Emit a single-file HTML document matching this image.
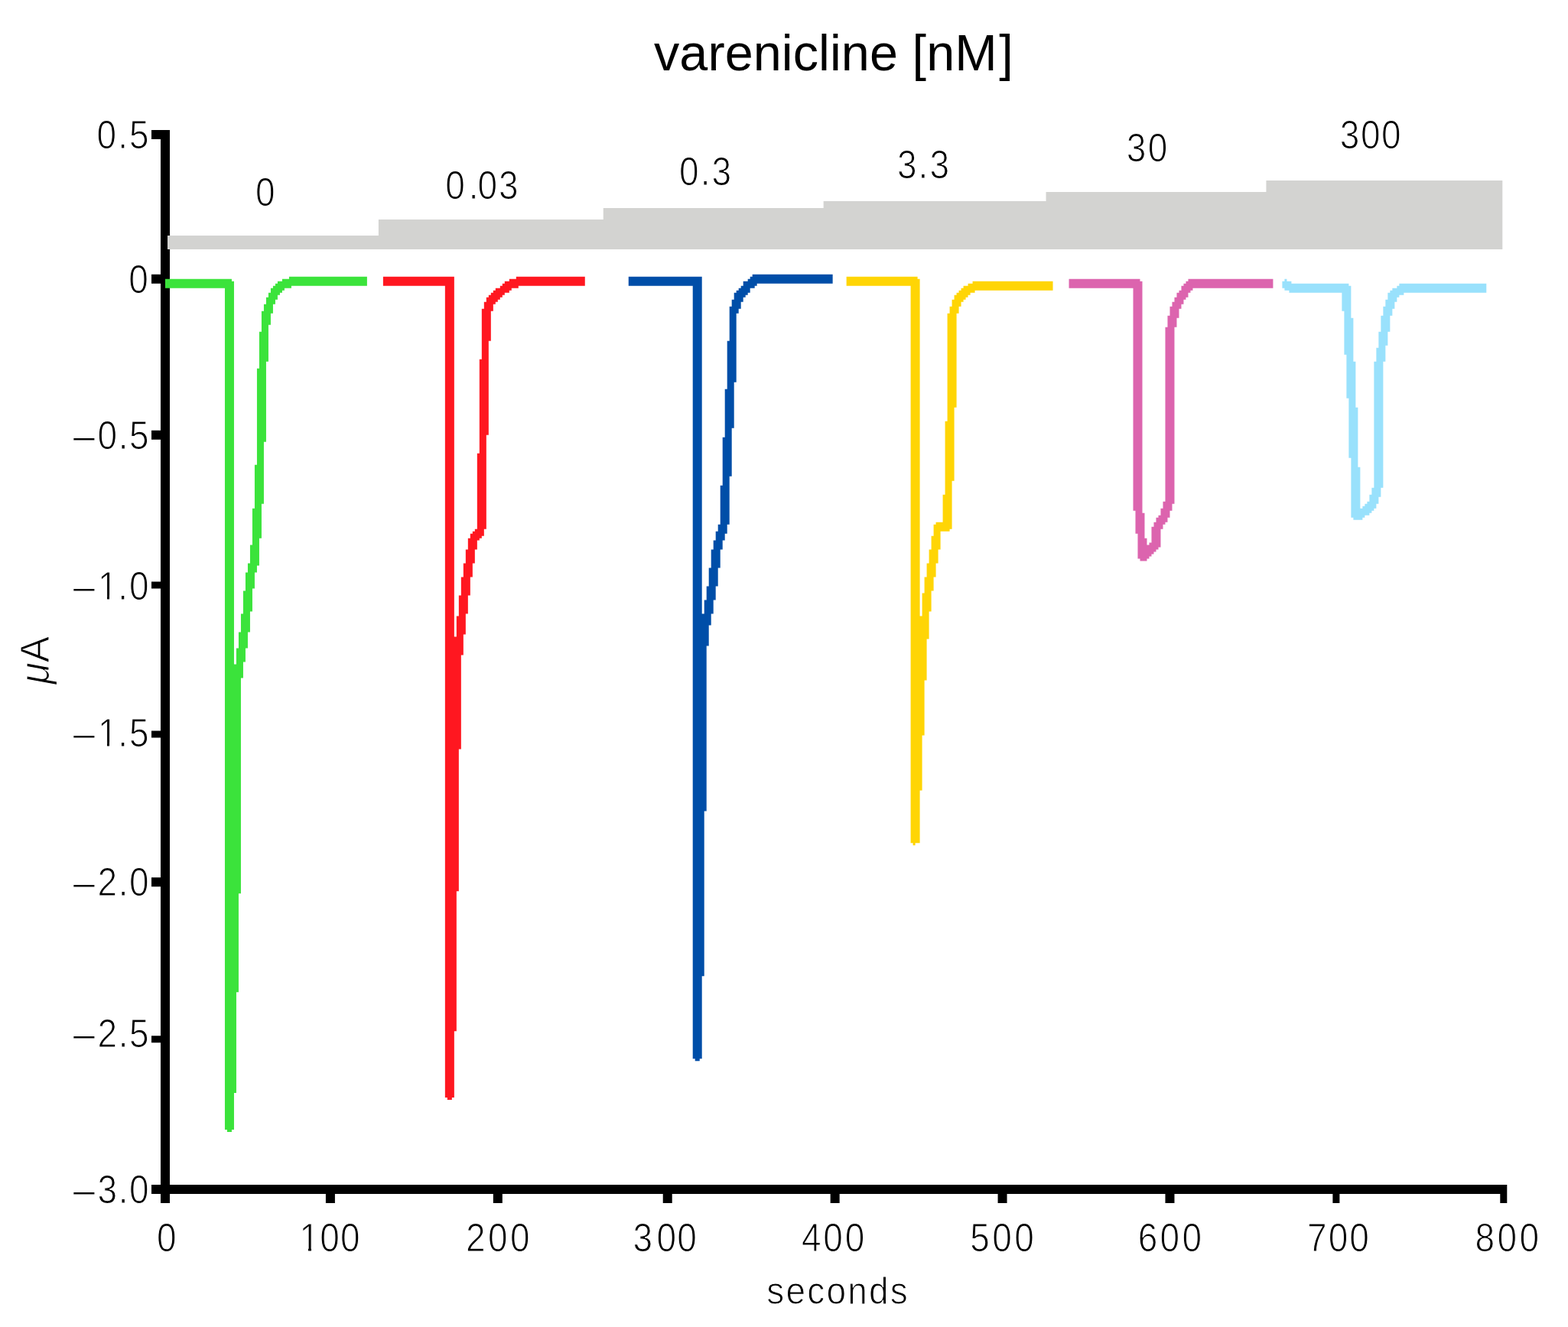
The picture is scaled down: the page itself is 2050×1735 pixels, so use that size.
<!DOCTYPE html>
<html lang="en">
<head>
<meta charset="utf-8">
<title>varenicline [nM]</title>
<style>
html,body{margin:0;padding:0;background:#fff;}
body{width:2050px;height:1735px;font-family:"Liberation Sans",sans-serif;}
svg{display:block;}
</style>
</head>
<body>
<svg width="2050" height="1735" viewBox="0 0 2050 1735">
<rect width="2050" height="1735" fill="#fff"/>
<g transform="matrix(0.9996 0 0 0.9993 0.0800 0.1190)">
<path fill="#000" d="M1098 1562v12h-12v-12h-207v12h-12v-12h-210v12h-12v-12h-207v12h-12v-12h-204v12h-12v-12h-12v-12h12v-186h-12v-9h12v-195h-12v-12h12v-183h-12v-9h12v-186h-12v-9h12v-186h-12v-12h12v-192h-12v-12h12v-177h-12v-12h24v1380h1749v24h-9v-12h-210v12h-9v-12h-207v12h-12v-12h-207v12h-12v-12z"/>
<path fill="#d3d3d1" d="M219 326v-18h276v-21h294v-15h288v-9h291v-12h288v-15h309v90z"/>
<path fill="#3be33b" d="M294 377h-78v-12h87v3h3v501h3v-21h3v-21h3v-24h3v-30h3v-24h3v-12h3v-24h3v-48h3v-57h3v-126h3v-48h3v-27h3v-9h3v-9h3v-6h3v-6h3v-3h3v-3h3v-3h6v-3h9v-3h102v12h-99v3h-9v3h-3v3h-3v3h-3v6h-3v6h-3v12h-3v15h-3v48h-3v105h-3v81h-3v45h-3v36h-3v9h-3v21h-3v30h-3v27h-3v21h-3v18h-3v21h-3v282h-3v129h-3v132h-3v48h-3v3h-6v-3h-3z"/>
<path fill="#ff1720" d="M594 833h3v-27h3v-27h3v-24h3v-18h3v-18h3v-15h3v-6h3v-3h3v-3h3v-99h3v-123h3v-66h3v-9h3v-6h3v-3h3v-3h3v-3h3v-3h6v-3h3v-3h3v-3h6v-3h9v-3h90v12h-87v3h-9v3h-3v3h-6v3h-3v3h-3v3h-3v3h-3v3h-3v9h-3v39h-3v123h-3v123h-3v9h-3v3h-3v3h-3v12h-3v18h-3v18h-3v24h-3v24h-3v27h-3v27h-3v123h-3v186h-3v183h-3v87h-3v3h-6v-3h-3v-1062h-81v-12h93z"/>
<path fill="#004ea8" d="M990 371v3h-3v3h-6v6h-3v3h-3v3h-3v6h-3v9h-3v6h-3v90h-3v60h-3v63h-3v63h-3v12h-3v9h-3v12h-3v24h-3v24h-3v18h-3v18h-3v15h-3v27h-3v216h-3v216h-3v108h-3v3h-6v-3h-3v-1011h-84v-12h96v441h3v-18h3v-18h3v-24h3v-24h3v-12h3v-12h3v-9h3v-51h3v-63h3v-63h3v-63h3v-45h3v-9h3v-9h3v-3h3v-3h3v-3h3v-6h6v-3h3v-3h3v-3h105v12z"/>
<path fill="#ffd505" d="M1203 1103h-6v3h-3v-3h-3v-729h-84v-12h93v3h3v441h3v-30h3v-21h3v-18h3v-18h3v-18h3v-15h3v-3h9v-36h3v-96h3v-141h3v-9h3v-9h3v-6h3v-3h3v-3h3v-3h3v-3h6v-3h6v-3h105v12h-102v3h-6v3h-3v3h-3v3h-3v3h-3v6h-3v9h-3v123h-3v96h-3v63h-3v3h-12v24h-3v18h-3v18h-3v18h-3v27h-3v36h-3v54h-3v72h-3v72h-3z"/>
<path fill="#dc64ae" d="M1482 377h-84v-12h93v3h3v303h3v33h3v9h3v-3h3v-21h3v-6h3v-6h3v-3h3v-9h3v-9h3v-228h3v-15h3v-12h3v-6h3v-6h3v-6h3v-3h3v-6h3v-3h3v-3h3v-3h111v12h-105v3h-3v3h-3v6h-3v3h-3v6h-3v6h-3v12h-3v12h-3v231h-3v9h-3v9h-3v6h-3v3h-3v6h-3v24h-3v3h-3v3h-3v3h-3v3h-3v3h-3v3h-9v-3h-3v-33h-3v-30h-3z"/>
<path fill="#99e1fc" d="M1770 473h3v60h3v78h3v54h3v-3h3v-3h3v-3h3v-9h3v-9h3v-165h3v-18h3v-21h3v-21h3v-12h3v-9h3v-9h3v-3h3v-3h6v-3h3v-3h114v12h-108v3h-6v3h-3v6h-3v9h-3v9h-3v21h-3v18h-3v21h-3v165h-3v12h-3v9h-3v6h-3v3h-3v3h-3v3h-6v3h-3v3h-12v-3h-3v-78h-3v-78h-3v-57h-3v-57h-3v-24h-69v-3h-6v-3h-3v-9h3v-3h3v3h6v3h75v3h3v42h3z"/>
</g>
<g font-family="'Liberation Sans', sans-serif" fill="#000">
<text transform="translate(855.00 92.00) scale(1 1.0000)" font-size="66.5" letter-spacing="0.10">varenicline [nM<tspan dx="2.4">]</tspan></text>
<text transform="translate(126.51 193.70) scale(1 1.1132)" font-size="46" letter-spacing="2.05" stroke="#fff" stroke-width="1.0">0.5</text>
<text transform="translate(168.21 383.32) scale(1 1.1132)" font-size="46" letter-spacing="0.00" stroke="#fff" stroke-width="1.0">0</text>
<text transform="translate(95.75 586.75) scale(1 1.1132)" font-size="46" letter-spacing="3.09" stroke="#fff" stroke-width="1.0"><tspan textLength="31.7" lengthAdjust="spacingAndGlyphs">–</tspan><tspan dx="0.1">0</tspan><tspan dx="-1.5">.</tspan><tspan dx="-1.5">5</tspan></text>
<text transform="translate(95.75 784.25) scale(1 1.1132)" font-size="46" letter-spacing="3.09" stroke="#fff" stroke-width="1.0"><tspan textLength="31.7" lengthAdjust="spacingAndGlyphs">–</tspan><tspan dx="0.6">1</tspan><tspan dx="-2.5">.</tspan><tspan dx="-1">0</tspan></text>
<text transform="translate(95.75 976.13) scale(1 1.1132)" font-size="46" letter-spacing="3.09" stroke="#fff" stroke-width="1.0"><tspan textLength="31.7" lengthAdjust="spacingAndGlyphs">–</tspan><tspan dx="0.6">1</tspan><tspan dx="-2.5">.</tspan><tspan dx="-1">5</tspan></text>
<text transform="translate(95.75 1171.37) scale(1 1.1132)" font-size="46" letter-spacing="3.09" stroke="#fff" stroke-width="1.0"><tspan textLength="31.7" lengthAdjust="spacingAndGlyphs">–</tspan><tspan dx="0.1">2</tspan><tspan dx="-1.5">.</tspan><tspan dx="-1.5">0</tspan></text>
<text transform="translate(95.75 1368.88) scale(1 1.1132)" font-size="46" letter-spacing="3.09" stroke="#fff" stroke-width="1.0"><tspan textLength="31.7" lengthAdjust="spacingAndGlyphs">–</tspan><tspan dx="0.1">2</tspan><tspan dx="-1.5">.</tspan><tspan dx="-1.5">5</tspan></text>
<text transform="translate(95.75 1573.31) scale(1 1.1132)" font-size="46" letter-spacing="3.09" stroke="#fff" stroke-width="1.0"><tspan textLength="31.7" lengthAdjust="spacingAndGlyphs">–</tspan><tspan dx="0.1">3</tspan><tspan dx="-1.5">.</tspan><tspan dx="-1.5">0</tspan></text>
<text transform="translate(204.95 1635.52) scale(1 1.1132)" font-size="46" letter-spacing="0.00" stroke="#fff" stroke-width="1.0">0</text>
<text transform="translate(391.59 1635.52) scale(1 1.1132)" font-size="46" letter-spacing="1.12" stroke="#fff" stroke-width="1.0">100</text>
<text transform="translate(609.03 1635.52) scale(1 1.1132)" font-size="46" letter-spacing="3.35" stroke="#fff" stroke-width="1.0">200</text>
<text transform="translate(827.46 1635.52) scale(1 1.1132)" font-size="46" letter-spacing="3.35" stroke="#fff" stroke-width="1.0">3<tspan dx="2">0</tspan><tspan dx="-2">0</tspan></text>
<text transform="translate(1047.88 1635.52) scale(1 1.1132)" font-size="46" letter-spacing="2.90" stroke="#fff" stroke-width="1.0">400</text>
<text transform="translate(1268.28 1635.52) scale(1 1.1132)" font-size="46" letter-spacing="3.35" stroke="#fff" stroke-width="1.0">500</text>
<text transform="translate(1487.70 1635.52) scale(1 1.1132)" font-size="46" letter-spacing="3.35" stroke="#fff" stroke-width="1.0">600</text>
<text transform="translate(1709.11 1635.52) scale(1 1.1132)" font-size="46" letter-spacing="2.01" stroke="#fff" stroke-width="1.0">700</text>
<text transform="translate(1928.53 1635.52) scale(1 1.1132)" font-size="46" letter-spacing="3.35" stroke="#fff" stroke-width="1.0">800</text>
<text transform="translate(1002.20 1704.65) scale(1 1.0932)" font-size="46" letter-spacing="2.21" stroke="#fff" stroke-width="1.0">seconds</text>
<text transform="translate(334.02 268.75) scale(1 1.1132)" font-size="46" letter-spacing="0.00" stroke="#fff" stroke-width="1.0">0</text>
<text transform="translate(582.23 259.87) scale(1 1.1132)" font-size="46" letter-spacing="1.91" stroke="#fff" stroke-width="1.0">0<tspan dx="3">.</tspan><tspan dx="-3">0</tspan>3</text>
<text transform="translate(888.02 242.09) scale(1 1.1132)" font-size="46" letter-spacing="2.05" stroke="#fff" stroke-width="1.0">0.3</text>
<text transform="translate(1172.97 233.21) scale(1 1.1132)" font-size="46" letter-spacing="2.05" stroke="#fff" stroke-width="1.0">3.3</text>
<text transform="translate(1472.81 211.47) scale(1 1.1132)" font-size="46" letter-spacing="2.39" stroke="#fff" stroke-width="1.0">30</text>
<text transform="translate(1751.80 193.70) scale(1 1.1132)" font-size="46" letter-spacing="1.56" stroke="#fff" stroke-width="1.0">300</text>
<text transform="translate(63.8 863.2) rotate(-90) scale(1.1 1.13)" font-size="47" text-anchor="middle" stroke="#fff" stroke-width="1"><tspan font-style="italic">μ</tspan>A</text>
</g>
<g fill="#fff"><rect x="394" y="1631" width="9" height="6"/><rect x="407" y="1631" width="9" height="6"/><rect x="131" y="778" width="9" height="7"/><rect x="143" y="778" width="10" height="7"/><rect x="131" y="970" width="9" height="7"/><rect x="143" y="970" width="10" height="7"/></g>
</svg>
</body>
</html>
